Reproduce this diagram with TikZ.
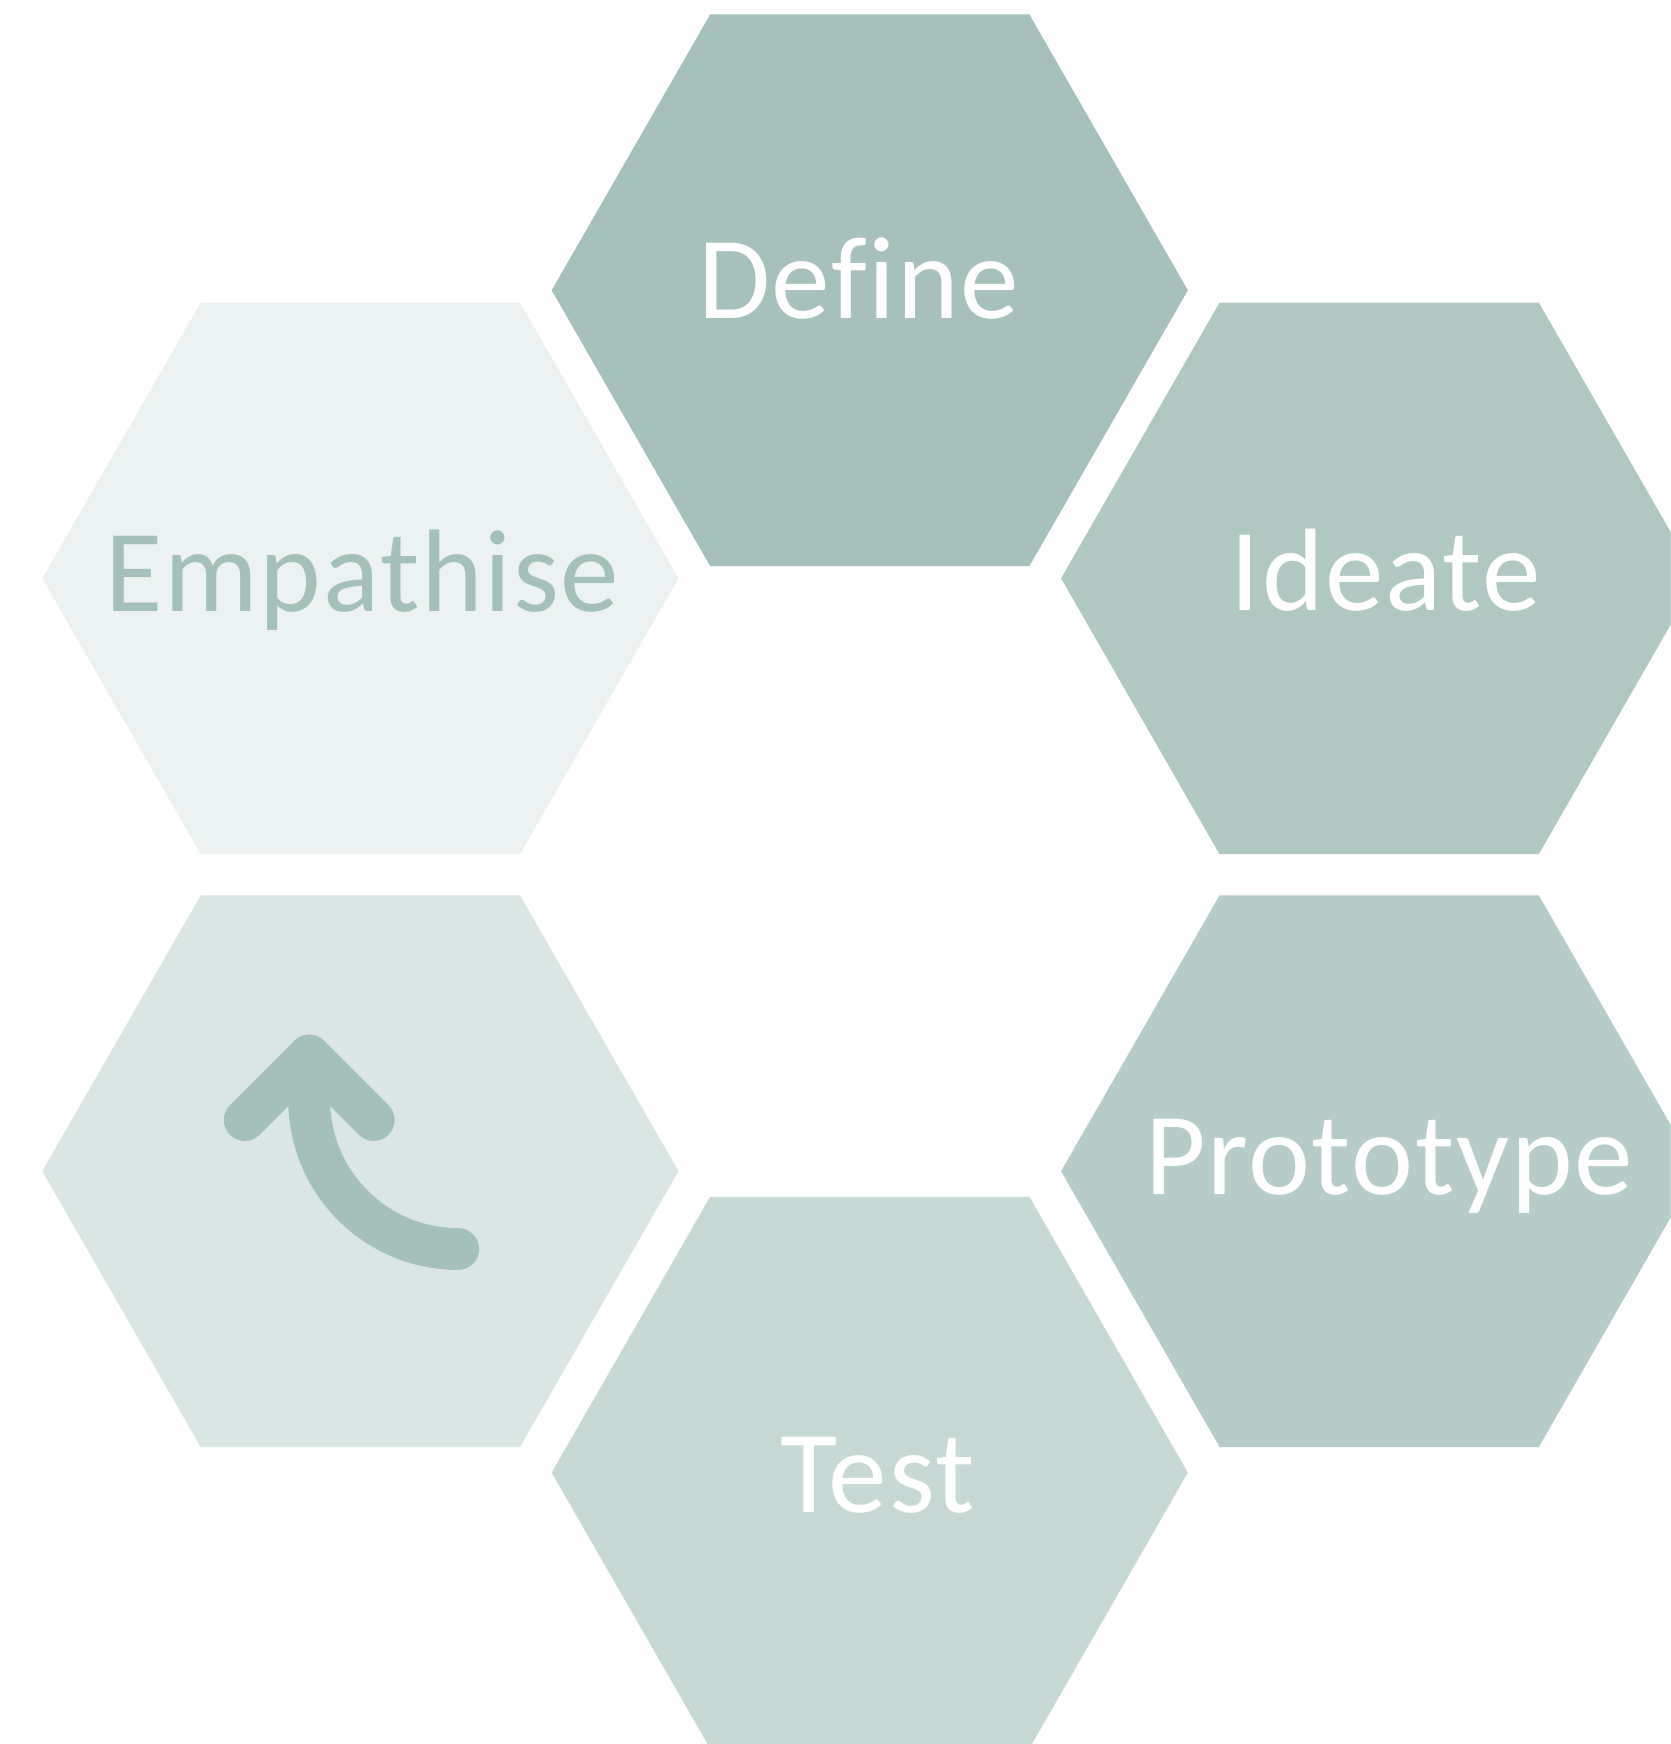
\documentclass[tikz,border=0pt]{standalone}
\usepackage{fontspec}
\setmainfont[Ligatures={NoCommon},LetterSpace=1.5]{Carlito}
\definecolor{cDefine}{HTML}{A6C1BB}
\definecolor{cIdeate}{HTML}{AFC8C2}
\definecolor{cProto}{HTML}{B5CCC8}
\definecolor{cTest}{HTML}{C7D9D5}
\definecolor{cLoop}{HTML}{DAE6E4}
\definecolor{cEmpath}{HTML}{ECF2F1}
\definecolor{cArrow}{HTML}{A3C0B9}
\newcommand{\hexagonat}[3]{%
  \fill[#3] (#1-286,#2) -- (#1-143.5,#2+248) -- (#1+143.5,#2+248) -- (#1+286,#2)
    -- (#1+143.5,#2-248) -- (#1-143.5,#2-248) -- cycle;}
\tikzset{
  label text/.style={inner sep=0pt, anchor=base, font=\fontsize{30}{36}\selectfont},
}
\begin{document}
\begin{tikzpicture}[x=0.01cm,y=0.01cm]
\useasboundingbox (0,0) rectangle (1502,1568);
\clip (0,0) rectangle (1502,1568);
\fill[white] (0,0) rectangle (1502,1568);
\hexagonat{782}{1307}{cDefine}
\hexagonat{324}{1048}{cEmpath}
\hexagonat{1240}{1048}{cIdeate}
\hexagonat{324}{515}{cLoop}
\hexagonat{1240}{515}{cProto}
\hexagonat{782}{244}{cTest}
\node[label text, text=white] (define) at (772,1282) {Define};
\node[label text, text=cArrow] (empathise) at (326,1018) {Empathise};
\node[label text, text=white] (ideate) at (1246,1019) {Ideate};
\node[label text, text=white] (prototype) at (1249,494) {Prototype};
\node[label text, text=white] (test) at (789,208) {Test};
\draw[cArrow, line width=10.7pt, line cap=round, line join=round]
  (220,561) -- (278,619) -- (336,561);
\draw[cArrow, line width=10.7pt, line cap=round]
  (278,619) -- (278,579) arc[start angle=180, end angle=270, radius=134];
\end{tikzpicture}
\end{document}
